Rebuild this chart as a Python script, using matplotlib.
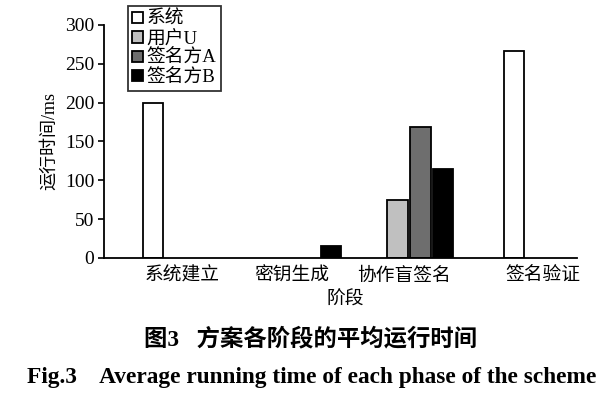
import numpy as np
import matplotlib.pyplot as plt

# 数据
fases = ['系统建立', '密钥生成', '协作盲签名', '签名验证']
series = ['系统', '用户U', '签名方A', '签名方B']
t_sistema = [200, 0, 0, 267]
t_usuario = [0, 0, 75, 0]
t_firmante_a = [0, 0, 168, 0]
t_firmante_b = [0, 16, 115, 0]
colores = ['white', '#c0c0c0', '#6e6e6e', 'black']

plt.rcParams['font.family'] = ['Liberation Serif', 'Noto Sans CJK SC']

fig = plt.figure(figsize=(6.08, 3.95), dpi=100)
ax = fig.add_axes([0.171, 0.347, 0.778, 0.590])

# posiciones de los grupos (el original no las reparte igual)
x = np.array([0, 0.914, 1.845, 3.0])
ancho = 0.17
paso = 0.189
valores = [t_sistema, t_usuario, t_firmante_a, t_firmante_b]
for i, (nombre, v, c) in enumerate(zip(series, valores, colores)):
    v = np.array(v, dtype=float)
    v[v == 0] = np.nan
    ax.bar(x + (i - 1.5) * paso, v, ancho, color=c, edgecolor='black',
           linewidth=1.3, label=nombre)

ax.set_ylim(0, 300)
ax.set_xlim(-0.69, 3.24)
ax.set_yticks(range(0, 301, 50))
ax.set_xticks(x - 0.04)
ax.set_xticklabels(fases, fontsize=13.5)
ax.tick_params(axis='y', labelsize=14, length=4, width=1.2, direction='out', pad=3)
ax.tick_params(axis='x', length=0, pad=7)
for s in ['top', 'right']:
    ax.spines[s].set_visible(False)
for s in ['left', 'bottom']:
    ax.spines[s].set_linewidth(1.3)

ax.set_ylabel('运行时间/ms', fontsize=13, labelpad=5)
ax.set_xlabel('阶段', fontsize=13.5)
ax.xaxis.set_label_coords(0.51, -0.145)

leg = ax.legend(loc='upper left', bbox_to_anchor=(0.05, 1.08), fontsize=13.5,
                frameon=True, fancybox=False, edgecolor='black',
                handlelength=0.55, handleheight=0.55, handletextpad=0.2,
                borderpad=0.25, labelspacing=0.12, borderaxespad=0)
leg.get_frame().set_linewidth(1.3)

fig.text(0.510, 0.142, '图3   方案各阶段的平均运行时间', ha='center', va='center',
         fontsize=16.8, fontweight='bold')
fig.text(0.512, 0.045, 'Fig.3    Average running time of each phase of the scheme',
         ha='center', va='center', fontsize=16.8, fontweight='bold')

fig.savefig('out.png', dpi=100)
